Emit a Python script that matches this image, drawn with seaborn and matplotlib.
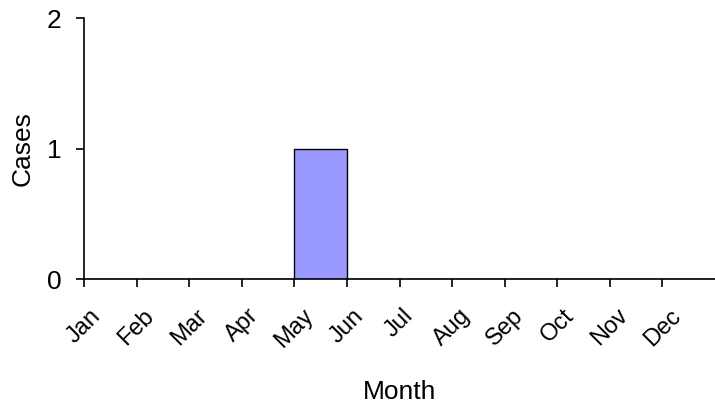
import numpy as np
import pandas as pd
import matplotlib
matplotlib.use("Agg")
import matplotlib.pyplot as plt
import seaborn as sns

months = ['Jan', 'Feb', 'Mar', 'Apr', 'May', 'Jun',
          'Jul', 'Aug', 'Sep', 'Oct', 'Nov', 'Dec']
cases = [0, 0, 0, 0, 1, 0, 0, 0, 0, 0, 0, 0]

sns.set_theme(style="ticks")
plt.rcParams['font.family'] = ['Liberation Sans', 'DejaVu Sans']
plt.rcParams['text.color'] = 'black'
plt.rcParams['axes.labelcolor'] = 'black'
plt.rcParams['xtick.color'] = 'black'
plt.rcParams['ytick.color'] = 'black'

df = pd.DataFrame({'month_idx': np.arange(len(months)) + 0.5, 'cases': cases})

fig = plt.figure(figsize=(7.15, 4.04), dpi=100)
ax = fig.add_axes([0.1175, 0.309, 0.8825, 0.646])

sns.barplot(data=df, x='month_idx', y='cases', native_scale=True, width=1,
            color='#9999FF', saturation=1, edgecolor='black', linewidth=1, ax=ax)

ax.set_xlim(0, 12)
ax.set_ylim(0, 2)
ax.set_xticks(np.arange(len(months)))
ax.set_xticklabels(months, rotation=45, ha='center', fontsize=17)
ax.set_yticks([0, 1, 2])
ax.set_yticklabels(['0', '1', '2'], fontsize=19)
ax.tick_params(axis='x', length=5.5, width=1.2, pad=13)
ax.tick_params(axis='y', length=6, width=1.2, pad=10)

for side in ['top', 'right']:
    ax.spines[side].set_visible(False)
for side in ['left', 'bottom']:
    ax.spines[side].set_color('black')
    ax.spines[side].set_linewidth(1.2)

ax.set_xlabel('Month', fontsize=19, labelpad=20)
ax.set_ylabel('Cases', fontsize=19, labelpad=9)

fig.savefig('out.png', dpi=100)
